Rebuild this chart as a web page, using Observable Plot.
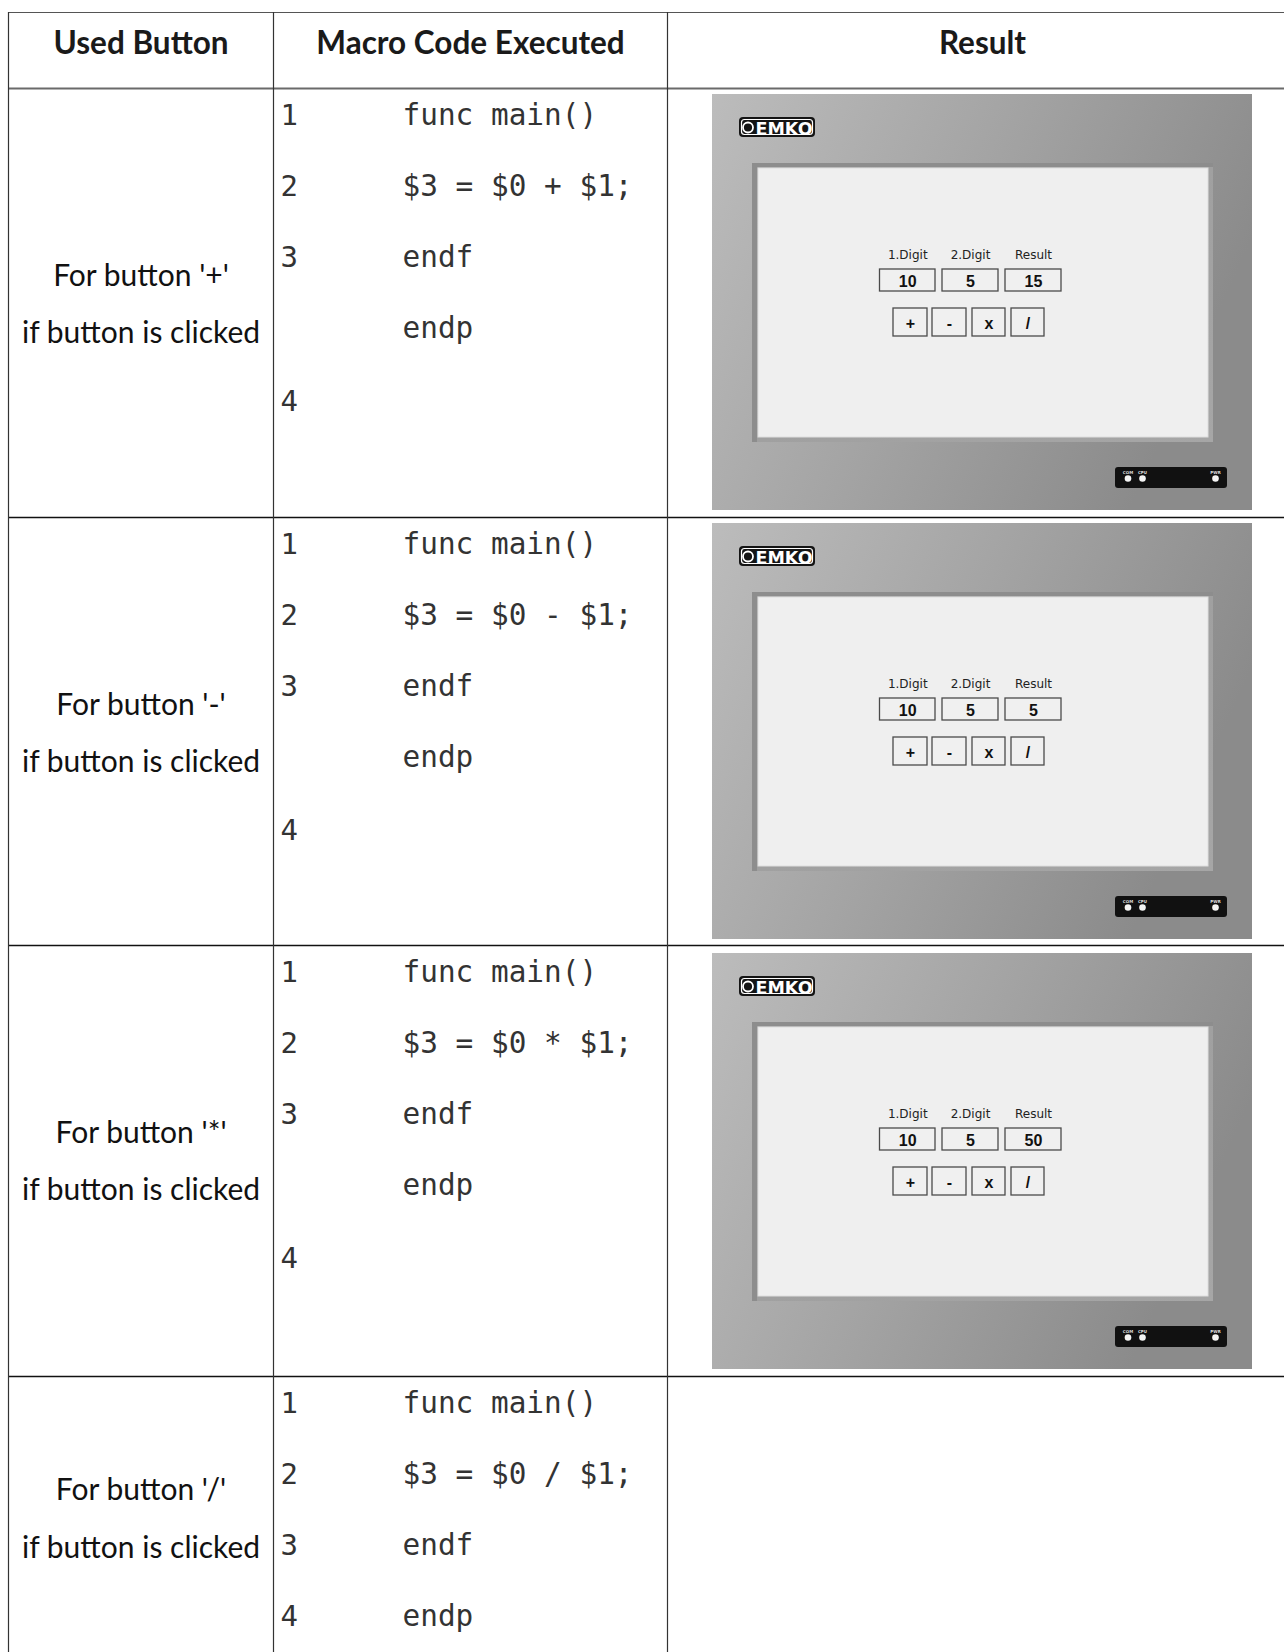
<!DOCTYPE html>
<html><head><meta charset="utf-8">
<script src="https://cdn.jsdelivr.net/npm/d3@7"></script>
<script src="https://cdn.jsdelivr.net/npm/@observablehq/plot@0.6"></script>
<style>html,body{margin:0;padding:0;background:#fff;} svg{display:block}</style>
</head><body><div id="chart"></div>
<script>
// ---- content ----
const headers = ["Used Button", "Macro Code Executed", "Result"];
const buttonNames = ["For button '+'", "For button '-'", "For button '*'", "For button '/'"];
const clickNote = "if button is clicked";
const lineNumbers = [
  ["1", "2", "3", "", "4"],
  ["1", "2", "3", "", "4"],
  ["1", "2", "3", "", "4"],
  ["1", "2", "3", "4"]
];
const codeLines = [
  ["func main()", "$3 = $0 + $1;", "endf", "endp", ""],
  ["func main()", "$3 = $0 - $1;", "endf", "endp", ""],
  ["func main()", "$3 = $0 * $1;", "endf", "endp", ""],
  ["func main()", "$3 = $0 / $1;", "endf", "endp"]
];
const fieldLabels = ["1.Digit", "2.Digit", "Result"];
const firstDigit = [10, 10, 10];
const secondDigit = [5, 5, 5];
const resultValues = [15, 5, 50];
const keypadKeys = ["+", "-", "x", "/"];
const ledLabels = ["COM", "CPU", "PWR"];
const brand = "EMKO";

// ---- layout ----
const W = 1284, H = 1652;
const colX = [8, 273, 667, 1297];
const tableTop = 12, headerBottom = 88;
const rowTops = [88, 517, 945, 1376];
const lineSlots = [36, 107, 178, 249, 322];
const noteSlots = [[197, 254], [197, 254], [197, 254], [123, 181]];
const sans = "Lato, 'Open Sans', sans-serif";
const mono = "'DejaVu Sans Mono', 'Liberation Mono', monospace";
const ui = "'DejaVu Sans', Verdana, sans-serif";
const arial = "'Liberation Sans', Arial, sans-serif";

// header + cells
const headerCells = headers.map((h, i) => ({x: (colX[i] + colX[i + 1]) / 2, y: 53, t: h}));
const noteCells = buttonNames.flatMap((b, i) => [
  {x: (colX[0] + colX[1]) / 2, y: rowTops[i] + noteSlots[i][0], t: b},
  {x: (colX[0] + colX[1]) / 2, y: rowTops[i] + noteSlots[i][1], t: clickNote}
]);
const numCells = lineNumbers.flatMap((ls, i) => ls.map((n, k) => ({x: 280, y: rowTops[i] + lineSlots[k], t: n}))).filter(d => d.t);
const codeCells = codeLines.flatMap((ls, i) => ls.map((c, k) => ({x: 402, y: rowTops[i] + lineSlots[k], t: c}))).filter(d => d.t);

// result screenshots
const panels = resultValues.map((r, i) => ({px: 712, py: rowTops[i] + 6 + (i === 2 ? 2 : 0), vals: [firstDigit[i], secondDigit[i], r]}));
const R = (p, x1, x2, y1, y2) => ({x1: p.px + x1, x2: p.px + x2, y1: p.py + y1, y2: p.py + y2});
const panelRects = panels.map(p => R(p, 0, 540, 0, 416));
const bezelRects = panels.map(p => R(p, 40, 501, 69, 348));
const bezelLight = panels.map(p => R(p, 45, 501, 73, 348));
const screenRects = panels.map(p => R(p, 46, 496, 74, 343));
const logoRects = panels.map(p => R(p, 27, 103, 23, 43));
const logoInner = panels.map(p => R(p, 29.5, 100.5, 25.5, 40.5));
const boxX = [[167.5, 223], [230, 286], [293, 349]];
const boxRects = panels.flatMap(p => boxX.map(([a, b]) => R(p, a, b, 175, 197)));
const keyX = [[181, 215], [220, 254], [260, 293], [299, 332]];
const keyRects = panels.flatMap(p => keyX.map(([a, b]) => R(p, a, b, 214, 242)));
const ledRects = panels.map(p => R(p, 403, 515, 373, 394));
const ledX = [415.5, 430, 503];
const ledDots = panels.flatMap(p => ledX.map(x => ({x: p.px + x, y: p.py + 384})));
const ledText = panels.flatMap(p => ledLabels.map((l, k) => ({x: p.px + ledX[k], y: p.py + 379, t: l})));
const labelText = panels.flatMap(p => fieldLabels.map((l, k) => ({x: p.px + (boxX[k][0] + boxX[k][1]) / 2, y: p.py + 164, t: l})));
const valueText = panels.flatMap(p => p.vals.map((v, k) => ({x: p.px + (boxX[k][0] + boxX[k][1]) / 2, y: p.py + 192, t: String(v)})));
const keyText = panels.flatMap(p => keypadKeys.map((kk, k) => ({x: p.px + (keyX[k][0] + keyX[k][1]) / 2, y: p.py + 234, t: kk})));
const logoText = panels.map(p => ({x: p.px + 71.5, y: p.py + 40, t: brand}));
const logoIcon = panels.map(p => ({x: p.px + 35.5, y: p.py + 33}));

const rectOf = (data, opts) => Plot.rect(data, {x1: "x1", x2: "x2", y1: "y1", y2: "y2", ...opts});
const textOf = (data, opts) => Plot.text(data, {x: "x", y: "y", text: "t", lineAnchor: "bottom", ...opts});

const svg = Plot.plot({
  width: W, height: H, margin: 0,
  x: {type: "identity", axis: null}, y: {type: "identity", axis: null},
  style: {background: "#fff"},
  marks: [
    // screenshots
    rectOf(panelRects, {fill: "url(#panelGrad)"}),
    rectOf(bezelRects, {fill: "#8d8d8d"}),
    rectOf(bezelLight, {fill: "url(#bezelGrad)"}),
    rectOf(screenRects, {fill: "#efefef", stroke: "#dedede", strokeWidth: 1}),
    rectOf(logoRects, {fill: "#141414", rx: 4}),
    rectOf(logoInner, {fill: "none", stroke: "#fff", strokeWidth: 1.2, rx: 3}),
    Plot.dot(logoIcon, {x: "x", y: "y", r: 5, stroke: "#fff", strokeWidth: 1.8, fill: "none"}),
    textOf(logoText, {fill: "#fff", fontSize: 17.5, fontWeight: "900", fontFamily: ui, textAnchor: "middle"}),
    textOf(labelText, {fill: "#222", fontSize: 12, fontFamily: ui, textAnchor: "middle"}),
    rectOf(boxRects, {fill: "#f0f0f0", stroke: "#4a4a4a", strokeWidth: 1.3}),
    textOf(valueText, {fill: "#111", fontSize: 16, fontWeight: "bold", fontFamily: arial, textAnchor: "middle"}),
    rectOf(keyRects, {fill: "#f0f0f0", stroke: "#4a4a4a", strokeWidth: 1.3}),
    textOf(keyText, {fill: "#111", fontSize: 16, fontWeight: "bold", fontFamily: arial, textAnchor: "middle"}),
    rectOf(ledRects, {fill: "#111", rx: 3}),
    Plot.dot(ledDots, {x: "x", y: "y", r: 3.3, fill: "#f4f4f4"}),
    textOf(ledText, {fill: "#ddd", fontSize: 4, fontFamily: ui, fontWeight: "bold", textAnchor: "middle"}),
    // table grid
    Plot.ruleY([tableTop], {x1: colX[0], x2: W, stroke: "#555", strokeWidth: 1.2}),
    Plot.ruleY([headerBottom], {x1: colX[0], x2: W, stroke: "#6a6a6a", strokeWidth: 2}),
    Plot.ruleY(rowTops.slice(1), {x1: colX[0], x2: W, stroke: "#111", strokeWidth: 1.6}),
    Plot.ruleX(colX.slice(0, 3), {y1: tableTop, y2: H, stroke: "#333", strokeWidth: 1.2}),
    // texts
    textOf(headerCells, {fill: "#1a1a1a", fontSize: 31.5, fontWeight: "bold", fontFamily: sans, textAnchor: "middle"}),
    textOf(noteCells, {fill: "#111", fontSize: 30, fontFamily: sans, textAnchor: "middle"}),
    textOf(numCells, {fill: "#333", fontSize: 29, fontFamily: mono, textAnchor: "start"}),
    textOf(codeCells, {fill: "#333", fontSize: 29.4, fontFamily: mono, textAnchor: "start"})
  ]
});

const defs = d3.select(svg).insert("defs", ":first-child");
const pg = defs.append("linearGradient").attr("id", "panelGrad").attr("x1", 0).attr("y1", 0).attr("x2", 1).attr("y2", 0.35);
pg.append("stop").attr("offset", 0).attr("stop-color", "#bcbcbc");
pg.append("stop").attr("offset", 0.5).attr("stop-color", "#a4a4a4");
pg.append("stop").attr("offset", 1).attr("stop-color", "#8b8b8b");
const bg = defs.append("linearGradient").attr("id", "bezelGrad").attr("x1", 0).attr("y1", 0).attr("x2", 1).attr("y2", 1);
bg.append("stop").attr("offset", 0).attr("stop-color", "#9a9a9a");
bg.append("stop").attr("offset", 1).attr("stop-color", "#a6a6a6");

document.getElementById("chart").appendChild(svg);
</script>
</body></html>
